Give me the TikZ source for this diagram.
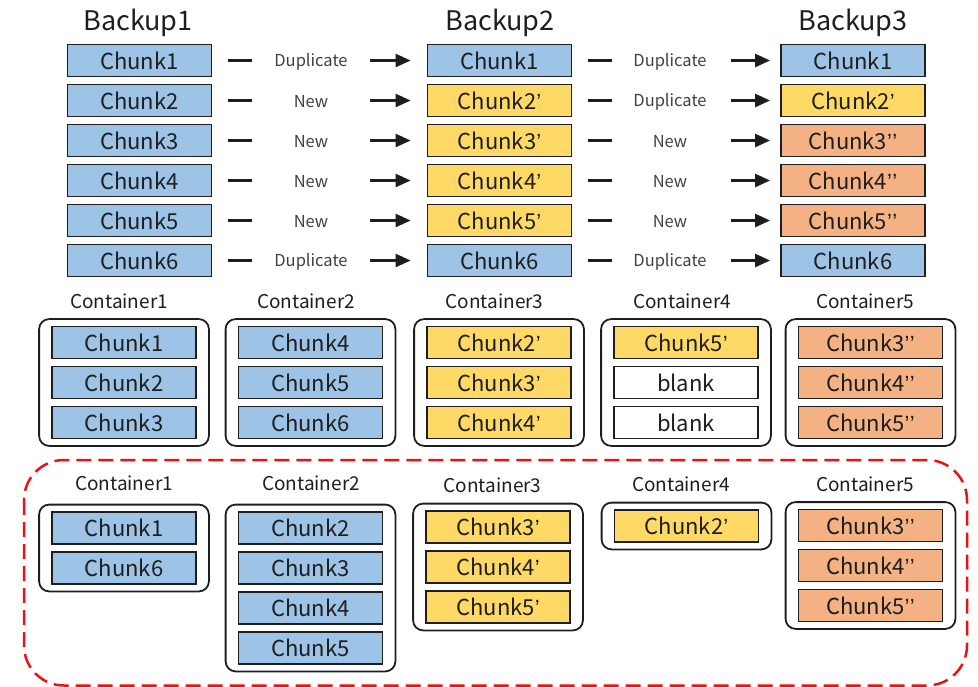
\documentclass[tikz,border=0pt]{standalone}
\usepackage{fontspec}
\setmainfont{Noto Sans CJK SC}
\newfontfamily\quotefont{Liberation Sans}
\newcommand{\pq}{{\quotefont\char"2019}}
\newcommand{\ppq}{{\quotefont\char"2019\kern0.5pt\char"2019}}
\usetikzlibrary{arrows.meta,fit}
\definecolor{cblue}{HTML}{9DC3E6}
\definecolor{cyellow}{HTML}{FFD966}
\definecolor{corange}{HTML}{F4B183}
\definecolor{ink}{HTML}{1E1E1E}
\definecolor{dashred}{HTML}{EE1111}

\begin{document}
\begin{tikzpicture}[x=1pt,y=-1pt,
  chunk/.style={draw=ink, line width=1.8pt, minimum width=144pt, minimum height=32pt,
    inner sep=0pt, font=\fontsize{22}{26}\selectfont, text=ink},
  cb/.style={fill=cblue}, cy/.style={fill=cyellow}, co/.style={fill=corange}, cw/.style={fill=white},
  cont/.style={draw=ink, line width=1.8pt, rounded corners=10pt, inner xsep=12pt, inner ysep=6.5pt},
  title/.style={font=\fontsize{27}{32}\selectfont, text=ink, anchor=base},
  tag/.style={font=\fontsize{16.5}{20}\selectfont, text=ink!85},
  clabel/.style={font=\fontsize{19}{22}\selectfont, text=ink},
  dashline/.style={draw=ink, line width=2.5pt},
  arrowline/.style={draw=ink, line width=2.5pt, -{Triangle[length=15pt,width=13pt]}},
  group/.style={draw=dashred, line width=2.5pt, dash pattern=on 15pt off 7pt, rounded corners=40pt}
]
\useasboundingbox (0,0) rectangle (978,687);

% ---- three backups ----
\node[title] (b1) at (138,31) {Backup1};
\node[title] (b2) at (500,31) {Backup2};
\node[title] (b3) at (853,31) {Backup3};

\foreach \i/\t/\s in {1/Chunk1/cb,2/Chunk2/cb,3/Chunk3/cb,4/Chunk4/cb,5/Chunk5/cb,6/Chunk6/cb}
  \node[chunk,\s] (a\i) at (139.5,{20.5+40*\i}) {\t};
\foreach \i/\t/\s in {1/Chunk1/cb,2/Chunk2\pq/cy,3/Chunk3\pq/cy,4/Chunk4\pq/cy,5/Chunk5\pq/cy,6/Chunk6/cb}
  \node[chunk,\s] (p\i) at (499.5,{20.5+40*\i}) {\t};
\foreach \i/\t/\s in {1/Chunk1/cb,2/Chunk2\pq/cy,3/Chunk3\ppq/co,4/Chunk4\ppq/co,5/Chunk5\ppq/co,6/Chunk6/cb}
  \node[chunk,\s] (q\i) at (853,{20.5+40*\i}) {\t};

% ---- status labels and connectors ----
\foreach \i/\t in {1/Duplicate,2/New,3/New,4/New,5/New,6/Duplicate}{
  \node[tag] (l\i) at (311,{22+40*\i}) {\t};
  \draw[dashline] ([xshift=16pt]a\i.east) -- ([xshift=40pt]a\i.east);
  \draw[arrowline] ([xshift=59pt,yshift=1.5pt]l\i.center) -- ([xshift=-16pt]p\i.west);
}
\foreach \i/\t in {1/Duplicate,2/Duplicate,3/New,4/New,5/New,6/Duplicate}{
  \node[tag] (m\i) at (670,{22+40*\i}) {\t};
  \draw[dashline] ([xshift=16pt]p\i.east) -- ([xshift=40pt]p\i.east);
  \draw[arrowline] ([xshift=61pt,yshift=1.5pt]m\i.center) -- ([xshift=-10pt]q\i.west);
}

% ---- containers before rewriting ----
\foreach \k/\x/\lx/\la/\lb/\lc/\sa/\sb/\sc in {
    1/124/119/Chunk1/Chunk2/Chunk3/cb/cb/cb,
    2/310.5/306/Chunk4/Chunk5/Chunk6/cb/cb/cb,
    3/499/494.5/Chunk2\pq/Chunk3\pq/Chunk4\pq/cy/cy/cy,
    4/686/682/Chunk5\pq/blank/blank/cy/cw/cw,
    5/870.5/865/Chunk3\ppq/Chunk4\ppq/Chunk5\ppq/co/co/co}{
  \node[clabel] (tl\k) at (\lx,301.5) {Container\k};
  \node[chunk,\sa] (t\k a) at (\x,342.5) {\la};
  \node[chunk,\sb] (t\k b) at (\x,382.5) {\lb};
  \node[chunk,\sc] (t\k c) at (\x,422.5) {\lc};
  \node[cont,fit=(t\k a)(t\k c)] (tc\k) {};
}

% ---- containers after rewriting, inside the dashed group ----
\draw[group] (24,460) rectangle (967,685.5);

\node[clabel] (ul1) at (124,483.5) {Container1};
\node[chunk,cb] (u1a) at (124,528) {Chunk1};
\node[chunk,cb] (u1b) at (124,568) {Chunk6};
\node[cont,fit=(u1a)(u1b)] (uc1) {};

\node[clabel] (ul2) at (311,483.5) {Container2};
\node[chunk,cb] (u2a) at (310.5,528) {Chunk2};
\node[chunk,cb] (u2b) at (310.5,568) {Chunk3};
\node[chunk,cb] (u2c) at (310.5,608) {Chunk4};
\node[chunk,cb] (u2d) at (310.5,648) {Chunk5};
\node[cont,fit=(u2a)(u2d)] (uc2) {};

\node[clabel] (ul3) at (492.5,485.5) {Container3};
\node[chunk,cy] (u3a) at (498,527) {Chunk3\pq};
\node[chunk,cy] (u3b) at (498,567) {Chunk4\pq};
\node[chunk,cy] (u3c) at (498,607) {Chunk5\pq};
\node[cont,fit=(u3a)(u3c)] (uc3) {};

\node[clabel] (ul4) at (681,484.5) {Container4};
\node[chunk,cy] (u4a) at (686.5,526) {Chunk2\pq};
\node[cont,fit=(u4a)] (uc4) {};

\node[clabel] (ul5) at (865,484) {Container5};
\node[chunk,co] (u5a) at (870.5,525.5) {Chunk3\ppq};
\node[chunk,co] (u5b) at (870.5,565.5) {Chunk4\ppq};
\node[chunk,co] (u5c) at (870.5,605.5) {Chunk5\ppq};
\node[cont,fit=(u5a)(u5c)] (uc5) {};
\end{tikzpicture}
\end{document}
